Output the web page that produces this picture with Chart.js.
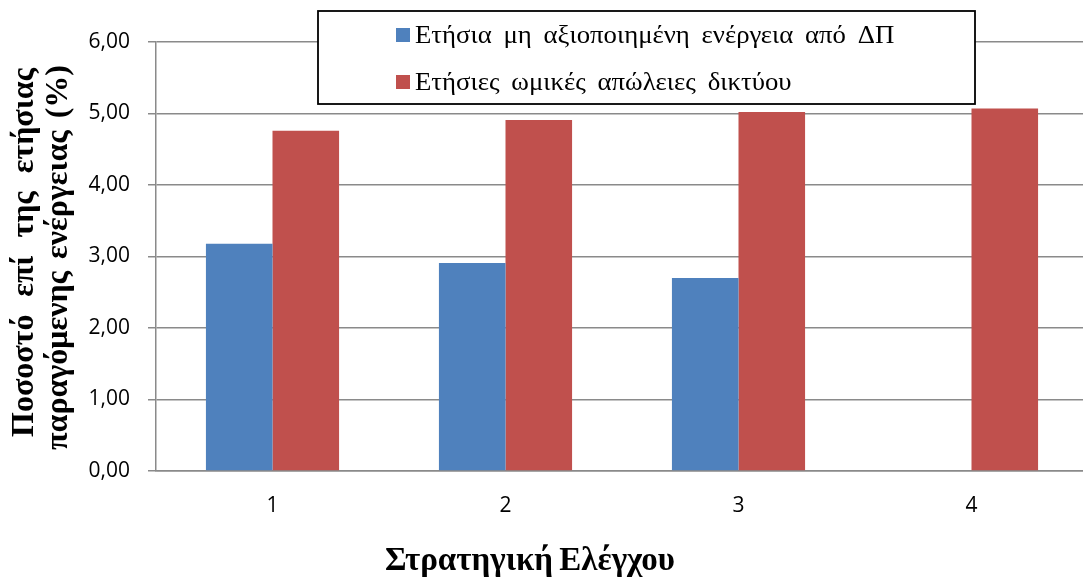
<!DOCTYPE html>
<html>
<head>
<meta charset="utf-8">
<script src="https://cdn.jsdelivr.net/npm/chart.js@4/dist/chart.umd.min.js"></script>
<style>
  html, body { margin: 0; padding: 0; overflow: hidden; background: #ffffff; }
  canvas { display: block; }
</style>
</head>
<body>
<canvas id="chart" width="1088" height="577"></canvas>
<script>
// Categories (control strategies) and the two annual percentages per strategy
const categories = ['1', '2', '3', '4'];
const unusedEnergy = [3.18, 2.91, 2.70, null];
const ohmicLosses = [4.76, 4.91, 5.02, 5.07];
const seriesNames = [
  'Ετήσια μη αξιοποιημένη ενέργεια από ΔΠ',
  'Ετήσιες ωμικές απώλειες δικτύου'
];
const seriesColors = ['#4F81BD', '#C0504D'];
const yTitleLines = ['Ποσοστό επί της ετήσιας', 'παραγόμενης ενέργειας (%)'];
const xTitle = 'Στρατηγική Ελέγχου';
const yMin = 0, yMax = 6, yStep = 1;

const GRID = '#8a8a8a';
const SERIF = '"Liberation Serif", "DejaVu Serif", serif';
const SANS = '"Open Sans", "Liberation Sans", sans-serif';

// Draw the words of a line from x0 so that they span exactly `span` pixels
function drawSpread(ctx, text, x0, y, span) {
  const words = text.split(' ');
  const widths = words.map(w => ctx.measureText(w).width);
  const total = widths.reduce((a, b) => a + b, 0);
  const gap = words.length > 1 ? (span - total) / (words.length - 1) : 0;
  let x = x0;
  words.forEach((w, i) => { ctx.fillText(w, x, y); x += widths[i] + gap; });
}

// Draw words from x0 with a fixed gap between them
function drawGapped(ctx, text, x0, y, gap) {
  let x = x0;
  text.split(' ').forEach(w => { ctx.fillText(w, x, y); x += ctx.measureText(w).width + gap; });
}

const annotations = {
  id: 'annotations',
  afterDraw(chart) {
    const ctx = chart.ctx;
    ctx.save();
    ctx.fillStyle = '#000';
    ctx.textBaseline = 'alphabetic';
    ctx.textAlign = 'left';

    // Vertical axis title, two justified lines read bottom-to-top
    ctx.font = 'bold 32px ' + SERIF;
    const yLines = [
      { baseX: 33, from: 437, to: 68 },
      { baseX: 67, from: 450, to: 65 }
    ];
    yTitleLines.forEach((t, i) => {
      const L = yLines[i];
      ctx.save();
      ctx.translate(L.baseX, L.from);
      ctx.rotate(-Math.PI / 2);
      drawSpread(ctx, t, 0, 0, L.from - L.to);
      ctx.restore();
    });

    // Horizontal axis title
    ctx.font = 'bold 33px ' + SERIF;
    drawSpread(ctx, xTitle, 385, 570, 290);

    // Legend box with the two series
    const box = { l: 318, t: 11, r: 975, b: 104 };
    ctx.fillStyle = '#ffffff';
    ctx.fillRect(box.l, box.t, box.r - box.l, box.b - box.t);
    ctx.strokeStyle = '#000';
    ctx.lineWidth = 1.8;
    ctx.strokeRect(box.l, box.t, box.r - box.l, box.b - box.t);
    ctx.font = 'normal 25px ' + SERIF;
    const rowBase = [43, 90];
    chart.data.datasets.forEach((ds, i) => {
      ctx.fillStyle = ds.backgroundColor;
      ctx.fillRect(396, rowBase[i] - 15, 14, 14);
      ctx.fillStyle = '#000';
      ctx.save();
      ctx.translate(415, rowBase[i]);
      ctx.scale(1.07, 1);
      drawGapped(ctx, ds.label, 0, 0, 11);
      ctx.restore();
    });
    ctx.restore();
  }
};

new Chart(document.getElementById('chart'), {
  type: 'bar',
  data: {
    labels: categories,
    datasets: [
      { label: seriesNames[0], data: unusedEnergy, backgroundColor: seriesColors[0] },
      { label: seriesNames[1], data: ohmicLosses, backgroundColor: seriesColors[1] }
    ]
  },
  options: {
    responsive: false,
    animation: false,
    devicePixelRatio: 1,
    layout: { padding: { top: 42, right: 0, bottom: 0, left: 0 } },
    datasets: { bar: { categoryPercentage: 2 / 3.5, barPercentage: 1 } },
    plugins: { legend: { display: false }, tooltip: { enabled: false }, title: { display: false } },
    scales: {
      x: {
        grid: { display: false, drawTicks: false },
        border: { display: true, color: GRID, width: 1.5 },
        ticks: { color: '#000', padding: 22, font: { family: SANS, size: 21 } },
        afterFit(scale) { scale.height = 106; }
      },
      y: {
        min: yMin, max: yMax,
        grid: { color: GRID, lineWidth: 1.5, drawTicks: true, tickLength: 8, tickColor: GRID },
        border: { display: true, color: GRID, width: 1.5 },
        ticks: {
          stepSize: yStep, color: '#000', padding: 18,
          font: { family: SANS, size: 21 },
          callback: v => v.toFixed(2).replace('.', ',')
        },
        afterFit(scale) { scale.width = 156; }
      }
    }
  },
  plugins: [annotations]
});
</script>
</body>
</html>
